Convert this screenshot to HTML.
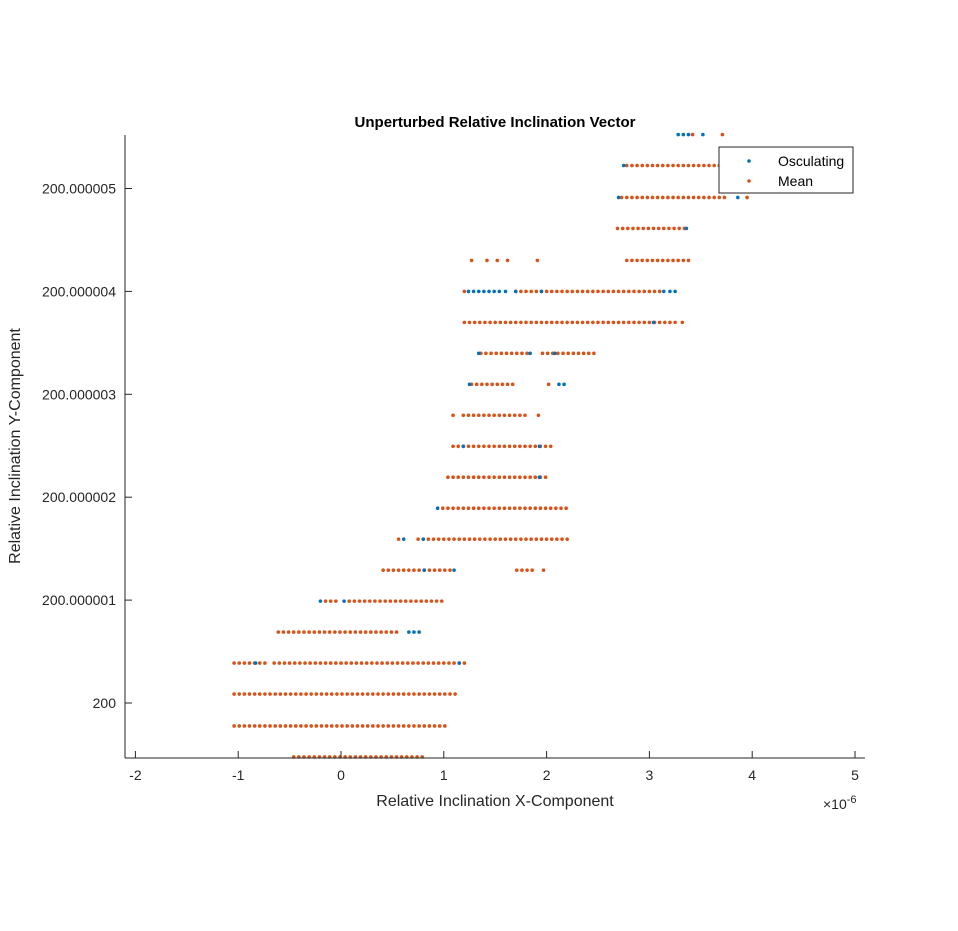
<!DOCTYPE html>
<html><head><meta charset="utf-8"><style>
body{margin:0;background:#fff}
svg text{font-family:"Liberation Sans",sans-serif}
</style></head><body>
<svg id="c" width="958" height="926" viewBox="0 0 958 926" xmlns="http://www.w3.org/2000/svg">
<rect width="958" height="926" fill="#fff"/>
<g id="plot"></g>
<text x="495" y="127" text-anchor="middle" font-size="15" font-weight="bold" fill="#000">Unperturbed Relative Inclination Vector</text>
<text x="495" y="806" text-anchor="middle" font-size="16" fill="#262626">Relative Inclination X-Component</text>
<text transform="translate(20,446) rotate(-90)" text-anchor="middle" font-size="16" fill="#262626">Relative Inclination Y-Component</text>
<text x="823" y="809" font-size="14" fill="#262626">×10<tspan dy="-6" font-size="11">-6</tspan></text>
<g>
<rect x="719" y="147" width="134" height="46" fill="#fff" stroke="#262626" stroke-width="1"/>
<circle cx="749" cy="161" r="1.8" fill="#0072BD"/>
<text x="778" y="166" font-size="14" fill="#000">Osculating</text>
<circle cx="749" cy="181" r="1.8" fill="#D95319"/>
<text x="778" y="186" font-size="14" fill="#000">Mean</text>
</g>
</svg>
<script>
// x in units of 1e-6, y as offset from 200 in units of 1e-6
const xTicks=[-2,-1,0,1,2,3,4,5];
const xTickLabels=["-2","-1","0","1","2","3","4","5"];
const yTicks=[0,1,2,3,4,5];
const yTickLabels=["200","200.000001","200.000002","200.000003","200.000004","200.000005"];
// row y values
const rowY=[5.524,5.223,4.913,4.612,4.301,4.0,3.699,3.398,3.097,2.796,2.495,2.194,1.893,1.592,1.291,0.990,0.689,0.388,0.087,-0.223,-0.524];
// mean segments: [rowIndex, xStart, xEnd]
const meanSegs=[[0,3.42,3.42],[0,3.71,3.71],[1,2.78,3.75],[2,2.73,3.75],[2,3.95,3.95],[3,2.69,3.38],
[4,1.27,1.31],[4,1.42,1.42],[4,1.52,1.52],[4,1.62,1.62],[4,1.91,1.91],[4,2.78,3.38],
[5,1.20,1.20],[5,1.70,3.10],[6,1.20,3.27],[6,3.32,3.32],[7,1.36,1.85],[7,1.96,2.50],
[8,1.27,1.67],[8,2.02,2.02],[9,1.09,1.09],[9,1.19,1.82],[9,1.92,1.92],[10,1.09,2.05],[11,1.04,2.02],
[12,0.99,2.20],[13,0.56,0.56],[13,0.75,2.20],[14,0.41,1.06],[14,1.71,1.86],[14,1.97,1.97],
[15,-0.15,-0.05],[15,0.08,1.01],[16,-0.61,0.58],[17,-1.04,-0.73],[17,-0.65,1.20],
[18,-1.04,1.15],[19,-1.04,1.05],[20,-0.46,0.82]];
const meanStep=0.05;
// osculating points: [rowIndex, x]
const oscPts=[[0,3.28],[0,3.33],[0,3.38],[0,3.52],[1,2.75],[2,2.70],[2,3.86],[3,3.36],
[5,1.24],[5,1.29],[5,1.34],[5,1.39],[5,1.44],[5,1.49],[5,1.54],[5,1.60],[5,1.70],[5,1.95],[5,3.14],[5,3.20],[5,3.25],
[6,3.04],[7,1.34],[7,1.84],[7,2.08],[8,1.25],[8,2.12],[8,2.17],[10,1.19],[10,1.93],[11,1.93],[12,0.94],
[13,0.61],[13,0.80],[14,0.81],[14,1.10],[15,-0.20],[15,0.03],[16,0.66],[16,0.71],[16,0.76],[17,-0.83],[17,1.15]];
const X=v=>341+v*102.8;
const Y=v=>703-v*102.9;
const g=document.getElementById('plot');
const NS='http://www.w3.org/2000/svg';
function mk(t,a){const e=document.createElementNS(NS,t);for(const k in a)e.setAttribute(k,a[k]);g.appendChild(e);return e;}
meanSegs.forEach(s=>{for(let x=s[1];x<=s[2]+1e-9;x+=meanStep){const c=mk('circle',{cx:X(x),cy:Y(rowY[s[0]]),r:1.8,fill:'#D95319'});

}});
oscPts.forEach(p=>{const c=mk('circle',{cx:X(p[1]),cy:Y(rowY[p[0]]),r:1.8,fill:'#0072BD'});

});
// axes
const xa=mk('line',{x1:125,y1:758,x2:865,y2:758,stroke:'#262626','stroke-width':1});


const ya=mk('line',{x1:125,y1:135,x2:125,y2:758,stroke:'#262626','stroke-width':1});


xTicks.forEach((v,i)=>{mk('line',{x1:X(v),y1:758,x2:X(v),y2:751,stroke:'#262626'});
const t=mk('text',{x:X(v),y:780,'text-anchor':'middle','font-size':14,fill:'#262626'});t.textContent=xTickLabels[i];

});
yTicks.forEach((v,i)=>{mk('line',{x1:125,y1:Y(v),x2:132,y2:Y(v),stroke:'#262626'});
const t=mk('text',{x:116,y:Y(v)+5,'text-anchor':'end','font-size':14,fill:'#262626'});t.textContent=yTickLabels[i];

});
</script>
</body></html>
